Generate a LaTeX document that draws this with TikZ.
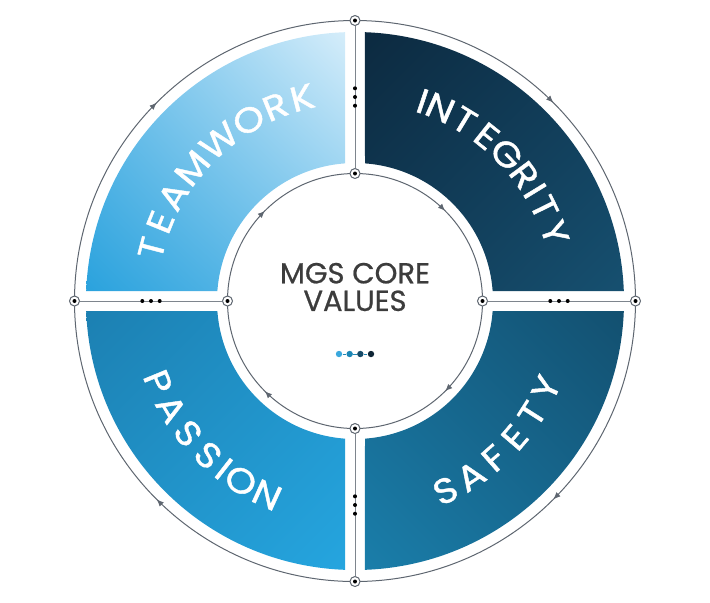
\documentclass[tikz,border=0pt]{standalone}
\usepackage{fontspec}
\setmainfont{Poppins}
\newfontfamily\segfont[FakeStretch=1.12, FakeBold=1.2]{Poppins}
\newfontfamily\corefont[FakeBold=0.7]{Poppins}
\usepackage{xcolor}
\usetikzlibrary{decorations.markings,arrows.meta,shadings}

\definecolor{ringGray}{HTML}{5E6670}
\definecolor{coreGray}{HTML}{3C3C3C}
\definecolor{dotA}{HTML}{3AA8DD}
\definecolor{dotB}{HTML}{1C86B5}
\definecolor{dotC}{HTML}{164A68}
\definecolor{dotD}{HTML}{0F2536}
\definecolor{teamLo}{HTML}{2AA2DD}
\definecolor{teamMid}{HTML}{70C1EB}
\definecolor{teamHi}{HTML}{D5EDFA}
\definecolor{integLo}{HTML}{0C2A40}
\definecolor{integMid}{HTML}{113C58}
\definecolor{integHi}{HTML}{165070}
\definecolor{safeLo}{HTML}{135070}
\definecolor{safeMid}{HTML}{16668D}
\definecolor{safeHi}{HTML}{1A7EAA}
\definecolor{passLo}{HTML}{1C80B2}
\definecolor{passMid}{HTML}{2193C9}
\definecolor{passHi}{HTML}{25A5DF}

\begin{document}
\begin{tikzpicture}
[x=0.5pt, y=0.5pt,
 ringDecorate/.style={draw=ringGray, line width=0.5pt, postaction={decorate}, decoration={markings, mark=at position 0.5 with {\arrow{Latex[length=3.6pt,width=3pt]}}}},
 axisDecorate/.style={draw=ringGray!80, line width=0.5pt},
 pinDecorate/.style={shape=circle, draw=ringGray, fill=white, line width=0.5pt, inner sep=0pt, minimum size=5pt, path picture={\fill[black] (path picture bounding box.center) circle (1pt);}},
 letterDecorate/.style={text=white, font=\segfont\fontsize{17.5}{17.5}\selectfont, inner sep=0pt},
 coreDecorate/.style={text=coreGray, font=\corefont\fontsize{14.5}{13.8}\selectfont, align=center, inner sep=0pt},
 dotDecorate/.style={shape=circle, inner sep=0pt, minimum size=3.2pt}]

 \useasboundingbox (-355,-301) rectangle (355,301);

 \pgfmathsetmacro\ao{asin(10/269)}
 \pgfmathsetmacro\ai{asin(10/138)}
 \foreach \b/\ul/\ur/\ll/\lr in {90/teamMid/teamHi/teamLo/teamMid, 0/integLo/integMid/integMid/integHi, -90/safeMid/safeLo/safeHi/safeMid, 180/passLo/passMid/passMid/passHi}
 {
          \shade[upper left=\ul, upper right=\ur, lower left=\ll, lower right=\lr] ({\b+\ao}:269) arc[start angle=\b+\ao, end angle=\b+90-\ao, radius=269] -- ({\b+90-\ai}:138) arc[start angle=\b+90-\ai, end angle=\b+\ai, radius=138] -- cycle;
 }

 \foreach \a/\n in {0/E,90/N,180/W,270/S}
 {
          \coordinate (o\n) at (\a:280.5);
          \coordinate (i\n) at (\a:127.5);
 }

 \foreach \a/\n in {180/W,90/N,0/E,270/S}
 {
          \draw[ringDecorate] (o\n) arc[start angle=\a, delta angle=-90, radius=280.5];
          \draw[ringDecorate] (i\n) arc[start angle=\a, delta angle=-90, radius=127.5];
 }

 \foreach \a/\n in {0/E,90/N,180/W,270/S}
 {
          \node (po\n) at (o\n) [pinDecorate] {};
          \node (pi\n) at (i\n) [pinDecorate] {};
          \draw[axisDecorate] (po\n) -- (pi\n);
          \foreach \k in {-8.7,0,8.7}
          {
                   \fill[black] (\a:{204+\k}) circle (1pt);
          }
 }

 \foreach \ch/\u [count=\i] in {T/0.45,E/1.325,A/2.25,M/3.325,W/4.55,O/5.7,R/6.65,K/7.55}
 {
          \pgfmathsetmacro\ang{135-(\u-4)*8.57}
          \node (team\i) at (\ang:210) [letterDecorate, rotate=\ang-90] {\ch};
 }
 \foreach \ch/\u [count=\i] in {I/0.2,N/0.9,T/1.9,E/2.9,G/3.9,R/4.9,I/5.6,T/6.3,Y/7.3}
 {
          \pgfmathsetmacro\ang{44-(\u-3.9)*7.38}
          \node (integ\i) at (\ang:211) [letterDecorate, rotate=\ang-90] {\ch};
 }
 \foreach \ch/\u [count=\i] in {S/0.5,A/1.5,F/2.5,E/3.5,T/4.5,Y/5.5}
 {
          \pgfmathsetmacro\ang{-44.5+(\u-3)*8}
          \node (safe\i) at (\ang:210) [letterDecorate, rotate=\ang+90] {\ch};
 }
 \foreach \ch/\u [count=\i] in {P/0.5,A/1.5,S/2.5,S/3.5,I/4.2,O/4.9,N/5.9}
 {
          \pgfmathsetmacro\ang{224+(\u-3.2)*8}
          \node (pass\i) at (\ang:213) [letterDecorate, rotate=\ang+90] {\ch};
 }

 \node (core) at (0,14) [coreDecorate] {MGS CORE\\VALUES};

 \foreach \c [count=\i] in {dotA,dotB,dotC,dotD}
 {
          \node (d\i) at ({-16+(\i-1)*10.67},-53) [dotDecorate, fill=\c] {};
 }
 \draw[dotB, line width=0.4pt] (d1) -- (d2) -- (d3) -- (d4);
\end{tikzpicture}
\end{document}
